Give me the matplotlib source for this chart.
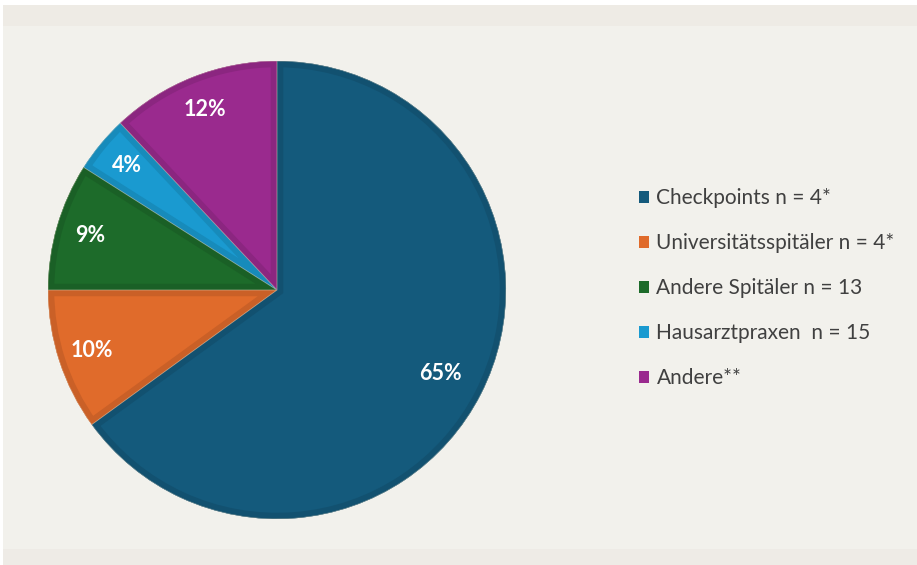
import matplotlib
matplotlib.use('Agg')
import matplotlib.pyplot as plt
from matplotlib.patches import Rectangle, Patch, Wedge
from matplotlib.colors import to_rgb

# ---- data ----
categories = ['Checkpoints n = 4*', 'Universitätsspitäler n = 4*', 'Andere Spitäler n = 13',
              'Hausarztpraxen  n = 15', 'Andere**']
shares = [65, 10, 9, 4, 12]
colors = ['#145a7c', '#e06b2b', '#1d6b2a', '#1a9ad0', '#9a2a8e']

plt.rcParams['font.family'] = ['Lato', 'DejaVu Sans']

W, H = 917, 565
fig = plt.figure(figsize=(W / 100, H / 100), dpi=100)
fig.patch.set_facecolor('#f2f1ec')

# background bands
fig.patches.append(Rectangle((0, 1 - 26 / H), 1, 21 / H, transform=fig.transFigure,
                             facecolor='#eeebe5', edgecolor='none', zorder=0))
fig.patches.append(Rectangle((0, 1 - 5 / H), 1, 5 / H, transform=fig.transFigure,
                             facecolor='white', edgecolor='none', zorder=0))
fig.patches.append(Rectangle((0, 0), 1, 16 / H, transform=fig.transFigure,
                             facecolor='#eeebe6', edgecolor='none', zorder=0))
fig.patches.append(Rectangle((0, 0), 3 / W, 1, transform=fig.transFigure,
                             facecolor='white', edgecolor='none', zorder=0))

# pie axes: centre (277, 290) px, radius 229 px
cx, cy, r = 277, 290, 229
ax = fig.add_axes([(cx - r) / W, (H - cy - r) / H, 2 * r / W, 2 * r / H])
ax.set_facecolor('none')


def darker(c, f=0.9):
    return tuple(v * f for v in to_rgb(c))


wedges, texts, autotexts = ax.pie(
    shares, colors=colors, startangle=90, counterclock=False,
    autopct='%d%%', pctdistance=0.85, radius=1,
    wedgeprops=dict(linewidth=0),
    textprops=dict(color='white', fontsize=15.5, fontweight='bold'))

# bevel: darker band just inside each slice edge
for w, c in zip(wedges, colors):
    bevel = Wedge(w.center, w.r, w.theta1, w.theta2, facecolor='none',
                  edgecolor=darker(c), linewidth=9, zorder=w.get_zorder() + 0.1)
    ax.add_patch(bevel)
    bevel.set_clip_path(w)
    sep = Wedge(w.center, w.r, w.theta1, w.theta2, facecolor='none',
                edgecolor='#d8c9b0', linewidth=0.6, alpha=0.6,
                zorder=w.get_zorder() + 0.2)
    ax.add_patch(sep)
    sep.set_clip_path(w)
for t in autotexts:
    t.set_zorder(5)

# big slice label sits a bit closer to centre
x, y = autotexts[0].get_position()
autotexts[0].set_position((x * 0.94, y * 0.94))

ax.set_xlim(-1, 1)
ax.set_ylim(-1, 1)
ax.set_aspect('equal')
ax.axis('off')

handles = [Patch(facecolor=c, edgecolor='none') for c in colors]
leg = fig.legend(handles, categories, loc='center left',
                 bbox_to_anchor=(620 / W, (H - 288) / H),
                 frameon=False, fontsize=15, handlelength=0.5, handleheight=0.5,
                 handletextpad=0.35, labelspacing=1.2)
for t in leg.get_texts():
    t.set_color('#404040')

plt.savefig('out.png', dpi=100, facecolor=fig.get_facecolor())
